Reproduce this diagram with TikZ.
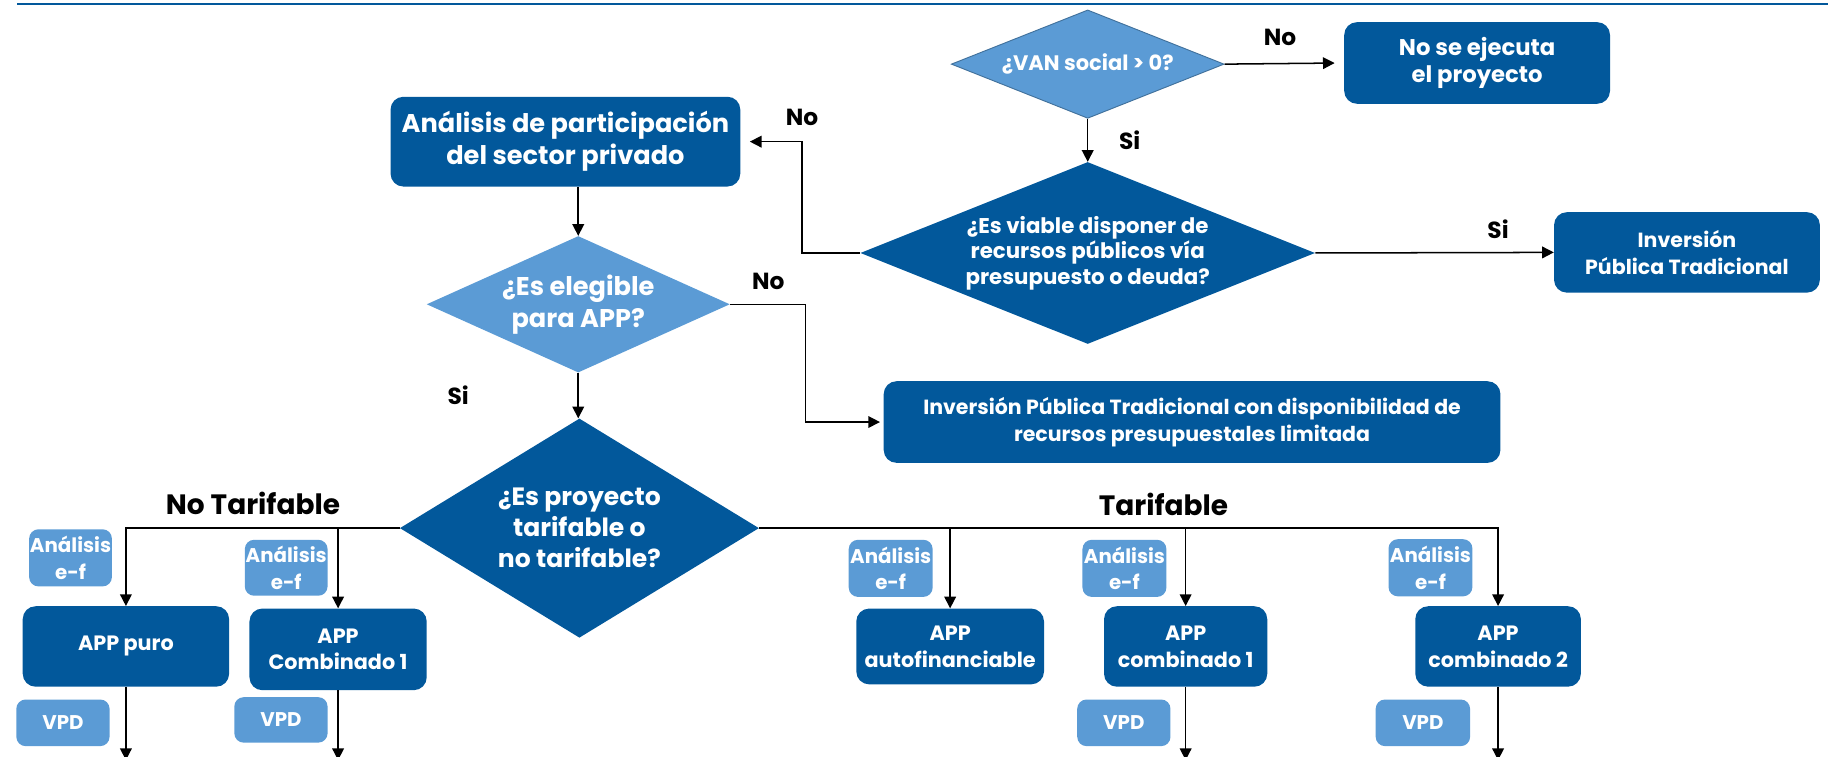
\documentclass[tikz,border=0pt]{standalone}
\usepackage{fontspec}
\setmainfont{Poppins}
\usetikzlibrary{shapes.geometric,arrows.meta}
\definecolor{dblue}{HTML}{02589B}
\definecolor{lblue}{HTML}{5B9BD5}
\definecolor{dline}{HTML}{41719C}
\newcommand\fbig{\fontsize{22}{27.5}\selectfont\bfseries}
\newcommand\fdia{\fontsize{21.5}{26.5}\selectfont\bfseries}
\newcommand\fvan{\fontsize{18}{22}\selectfont\bfseries}
\newcommand\fnoex{\fontsize{19.5}{22.5}\selectfont\bfseries}
\newcommand\fvia{\fontsize{18.3}{22}\selectfont\bfseries}
\newcommand\fipt{\fontsize{17.6}{23}\selectfont\bfseries}
\newcommand\fsml{\fontsize{17.8}{23}\selectfont\bfseries}
\newcommand\ftag{\fontsize{17}{23}\selectfont\bfseries}
\newcommand\flab{\fontsize{20}{24}\selectfont\bfseries}
\newcommand\fhead{\fontsize{24}{28}\selectfont\bfseries}
\begin{document}
\begin{tikzpicture}[x=1pt,y=-1pt,
  arr/.style={draw=black, line width=1.3pt, -{Triangle[length=10pt,width=10pt]}},
  box/.style={rectangle, rounded corners=11pt, fill=dblue, text=white, align=center, inner sep=0pt},
  lbox/.style={rectangle, rounded corners=8pt, fill=lblue, text=white, align=center, inner sep=0pt, font=\ftag},
  dia/.style={diamond, inner sep=0pt},
  dtext/.style={text=white, align=center},
  lab/.style={text=black, font=\flab, inner sep=0pt},
]
\useasboundingbox (0,0) rectangle (1568,649);

% header rule
\draw[dblue, line width=2.2pt] (15,3.5) -- (1568,3.5);

% decisions
\node[dia, fill=lblue, draw=dline, line width=0.8pt, minimum width=234pt, minimum height=93pt,
      label={[name=vant, dtext, font=\fvan]center:¿VAN social > 0?}] (van) at (933,55) {};
\node[dia, fill=dblue, minimum width=390pt, minimum height=156pt,
      label={[name=viat, dtext, font=\fvia]center:{¿Es viable disponer de\\recursos públicos vía\\presupuesto o deuda?}}] (via) at (933,217) {};
\node[dia, fill=lblue, minimum width=260pt, minimum height=117pt,
      label={[name=elet, dtext, font=\fbig]center:{¿Es elegible\\para APP?}}] (ele) at (496,261) {};
\node[dia, fill=dblue, minimum width=308pt, minimum height=188pt,
      label={[name=tart, dtext, font=\fdia]center:{¿Es proyecto\\tarifable o\\no tarifable?}}] (tar) at (497,453) {};

% process boxes
\node[box, font=\fnoex, minimum width=228pt, minimum height=70pt] (noex) at (1267,54) {No se ejecuta\\el proyecto};
\node[box, font=\fipt, minimum width=228pt, minimum height=69pt] (ipt) at (1447,216.5) {Inversión\\Pública Tradicional};
\node[box, font=\fbig, minimum width=300pt, minimum height=77pt] (ana) at (485,121.5) {Análisis de participación\\del sector privado};
\node[box, font=\fipt, minimum width=529pt, minimum height=70pt] (iptl) at (1022.5,362) {Inversión Pública Tradicional con disponibilidad de\\recursos presupuestales limitada};

% schemes
\node[box, font=\fsml, minimum width=177pt, minimum height=69pt] (puro) at (108,554.5) {APP puro};
\node[box, font=\fsml, minimum width=152pt, minimum height=70pt] (cb1n) at (290,557) {APP\\Combinado 1};
\node[box, font=\fsml, minimum width=161pt, minimum height=65pt] (auto) at (815,554.5) {APP\\autofinanciable};
\node[box, font=\fsml, minimum width=140pt, minimum height=69pt] (cb1t) at (1017,554.5) {APP\\combinado 1};
\node[box, font=\fsml, minimum width=142pt, minimum height=69pt] (cb2) at (1285,554.5) {APP\\combinado 2};

% side tags
\node[lbox, minimum width=71pt, minimum height=49pt] (ef1) at (60.5,478.5) {Análisis\\e-f};
\node[lbox, minimum width=71pt, minimum height=48pt] (ef2) at (245.5,487) {Análisis\\e-f};
\node[lbox, minimum width=72pt, minimum height=49pt] (ef3) at (764,487.5) {Análisis\\e-f};
\node[lbox, minimum width=72pt, minimum height=49pt] (ef4) at (964.5,487.5) {Análisis\\e-f};
\node[lbox, minimum width=72pt, minimum height=49pt] (ef5) at (1227,487) {Análisis\\e-f};
\node[lbox, minimum width=80pt, minimum height=40pt] (vp1) at (54,620) {VPD};
\node[lbox, minimum width=80pt, minimum height=39pt] (vp2) at (241,617.5) {VPD};
\node[lbox, minimum width=80pt, minimum height=40pt] (vp3) at (964,620) {VPD};
\node[lbox, minimum width=81pt, minimum height=40pt] (vp4) at (1220.5,620) {VPD};

% connector labels
\node[lab] (l1) at (1098,32) {No};
\node[lab] (l2) at (969,120) {Si};
\node[lab] (l3) at (688,101) {No};
\node[lab] (l4) at (1285,197) {Si};
\node[lab] (l5) at (659,241) {No};
\node[lab] (l6) at (393,339) {Si};
\node[text=black, font=\fhead, inner sep=0pt] (h1) at (217,432) {No Tarifable};
\node[text=black, font=\fhead, inner sep=0pt] (h2) at (998,433) {Tarifable};

% connectors
\coordinate (bot) at (0,652);
\coordinate (k1) at (688,217);
\coordinate (k2) at (691,261);
\draw[arr, shorten >=8pt] (van.east) -- (noex.west);
\draw[arr] (van.south) -- (via.north);
\draw[arr] (via.east) -- (ipt.west);
\draw[arr, shorten >=8pt] (via.west) -- (k1) |- (ana.east);
\draw[arr] (ana.south -| ele.north) -- (ele.north);
\draw[arr, shorten >=3pt] (ele.east) -- (k2) |- (iptl.west);
\draw[arr] (ele.south) -- (ele.south |- tar.north);
\draw[arr] (tar.west) -| (puro.north);
\draw[arr] (cb1n.north |- tar.west) -- (cb1n.north);
\draw[arr] (tar.east) -| (cb2.north);
\draw[arr] (auto.north |- tar.east) -- (auto.north);
\draw[arr] (cb1t.north |- tar.east) -- (cb1t.north);
\draw[arr] (puro.south) -- (puro.south |- bot);
\draw[arr] (cb1n.south) -- (cb1n.south |- bot);
\draw[arr] (cb1t.south) -- (cb1t.south |- bot);
\draw[arr] (cb2.south) -- (cb2.south |- bot);
\end{tikzpicture}
\end{document}
